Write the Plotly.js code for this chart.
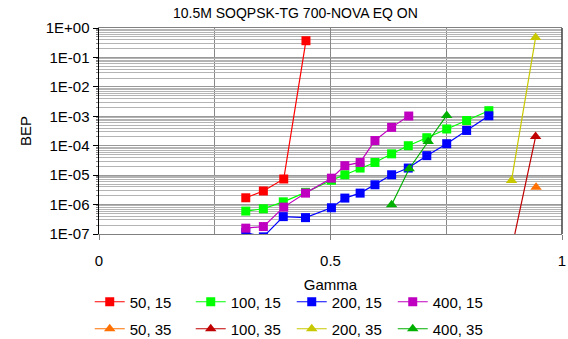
<!DOCTYPE html>
<html>
<head>
<meta charset="utf-8">
<script src="https://cdn.plot.ly/plotly-3.0.1.min.js"></script>
<style>html,body{margin:0;padding:0;background:#fff;}#chart{width:568px;height:339px;}</style>
</head>
<body>
<div id="chart"></div>
<script>
// Series data (Gamma vs BEP)
const seriesNames = ["50, 15", "100, 15", "200, 15", "400, 15", "50, 35", "100, 35", "200, 35", "400, 35"];

const gamma_50_15 = [0.317, 0.355, 0.399, 0.447];
const bep_50_15 = [1.7e-6, 2.9e-6, 7.4e-6, 0.37];

const gamma_100_15 = [0.317, 0.355, 0.398, 0.446, 0.502, 0.531, 0.564, 0.596, 0.632, 0.668, 0.708, 0.751, 0.794, 0.842];
const bep_100_15 = [6.0e-7, 7.2e-7, 1.24e-6, 2.6e-6, 6.7e-6, 1.03e-5, 1.74e-5, 2.7e-5, 5.3e-5, 1.0e-4, 1.87e-4, 3.7e-4, 7.2e-4, 1.55e-3];

const gamma_200_15 = [0.317, 0.355, 0.398, 0.446, 0.502, 0.531, 0.564, 0.596, 0.632, 0.668, 0.708, 0.751, 0.794, 0.842];
const bep_200_15 = [1.12e-7, 8.0e-8, 3.9e-7, 3.6e-7, 7.8e-7, 1.66e-6, 2.45e-6, 4.7e-6, 1.03e-5, 1.74e-5, 4.6e-5, 1.17e-4, 3.3e-4, 1.04e-3];

const gamma_400_15 = [0.317, 0.355, 0.399, 0.446, 0.502, 0.531, 0.564, 0.596, 0.632, 0.669];
const bep_400_15 = [1.58e-7, 1.79e-7, 8.2e-7, 2.45e-6, 7.9e-6, 2.1e-5, 2.7e-5, 1.5e-4, 4.2e-4, 1.02e-3];

const gamma_50_35 = [0.944];
const bep_50_35 = [3.9e-6];

const gamma_100_35 = [0.891, 0.943];
const bep_100_35 = [3.0e-8, 2.05e-4];

const gamma_200_35 = [0.891, 0.943];
const bep_200_35 = [6.6e-6, 0.48];

const gamma_400_35 = [0.632, 0.670, 0.711, 0.751];
const bep_400_35 = [9.8e-7, 1.65e-5, 1.39e-4, 1.07e-3];

const xTickVals = [0, 0.5, 1];
const xTickText = ["0", "0.5", "1"];
const yTickVals = [1e-7, 1e-6, 1e-5, 1e-4, 1e-3, 1e-2, 1e-1, 1];
const yTickText = ["1E-07", "1E-06", "1E-05", "1E-04", "1E-03", "1E-02", "1E-01", "1E+00"];

const colors = ["#FF0000", "#00FF00", "#0000FF", "#C000C0", "#FF7000", "#C00000", "#C8C800", "#00B000"];
const xs = [gamma_50_15, gamma_100_15, gamma_200_15, gamma_400_15, gamma_50_35, gamma_100_35, gamma_200_35, gamma_400_35];
const ys = [bep_50_15, bep_100_15, bep_200_15, bep_400_15, bep_50_35, bep_100_35, bep_200_35, bep_400_35];

const traces = seriesNames.map((name, i) => {
  const isTri = i >= 4;
  return {
    type: 'scatter',
    mode: 'lines+markers',
    name: name,
    legend: isTri ? 'legend2' : 'legend',
    x: xs[i],
    y: ys[i],
    line: { color: colors[i], width: 1.2 },
    marker: {
      symbol: isTri ? 'triangle-up' : 'square',
      size: isTri ? 10 : 9,
      color: colors[i],
      line: { width: 0 }
    },
    cliponaxis: true
  };
});

const legendBase = {
  orientation: 'h',
  xref: 'paper', x: -0.02, xanchor: 'left',
  yref: 'paper', yanchor: 'middle',
  entrywidth: 56, entrywidthmode: 'pixels',
  font: { size: 15 },
  bgcolor: 'rgba(0,0,0,0)',
  traceorder: 'normal'
};

const layout = {
  width: 568,
  height: 339,
  paper_bgcolor: '#ffffff',
  plot_bgcolor: '#ffffff',
  font: { family: 'Liberation Sans, Arial, sans-serif', size: 15, color: '#000' },
  margin: { l: 99, r: 6, t: 28, b: 105, autoexpand: false },
  title: {
    text: '10.5M SOQPSK-TG 700-NOVA EQ ON',
    font: { size: 14 },
    xref: 'container', x: 0.52, xanchor: 'center',
    yref: 'container', y: 0.962, yanchor: 'middle'
  },
  showlegend: true,
  legend: Object.assign({}, legendBase, { y: (234 - 302) / 206 }),
  legend2: Object.assign({}, legendBase, { y: (234 - 329) / 206 }),
  xaxis: {
    range: [0, 1],
    tickvals: xTickVals,
    ticktext: xTickText,
    ticks: 'outside', ticklen: 5, tickcolor: '#808080',
    ticklabelstandoff: 8,
    showgrid: true, gridcolor: '#888888', gridwidth: 1,
    minor: { dtick: 0.25, showgrid: true, gridcolor: '#888888', gridwidth: 1 },
    showline: true, linecolor: '#808080', linewidth: 1, mirror: true,
    zeroline: false,
    title: { text: 'Gamma', font: { size: 15 }, standoff: 11 },
    tickfont: { size: 15 }
  },
  yaxis: {
    type: 'log',
    range: [-7, 0],
    tickvals: yTickVals,
    ticktext: yTickText,
    ticks: 'outside', ticklen: 5, tickcolor: '#000',
    showgrid: true, gridcolor: '#999999', gridwidth: 1,
    minor: { dtick: 'D1', showgrid: true, gridcolor: '#b4b4b4', gridwidth: 1, ticks: 'outside', ticklen: 2, tickcolor: '#888' },
    showline: true, linecolor: '#000000', linewidth: 1.5, mirror: false,
    zeroline: false,
    title: { text: 'BEP', font: { size: 15 }, standoff: 10 },
    tickfont: { size: 15 }
  },
  shapes: [
    { type: 'line', xref: 'paper', yref: 'paper', x0: 1, x1: 1, y0: 0, y1: 1, line: { color: '#404040', width: 1.5 } }
  ]
};

Plotly.newPlot('chart', traces, layout, { displayModeBar: false, staticPlot: true });
</script>
</body>
</html>
